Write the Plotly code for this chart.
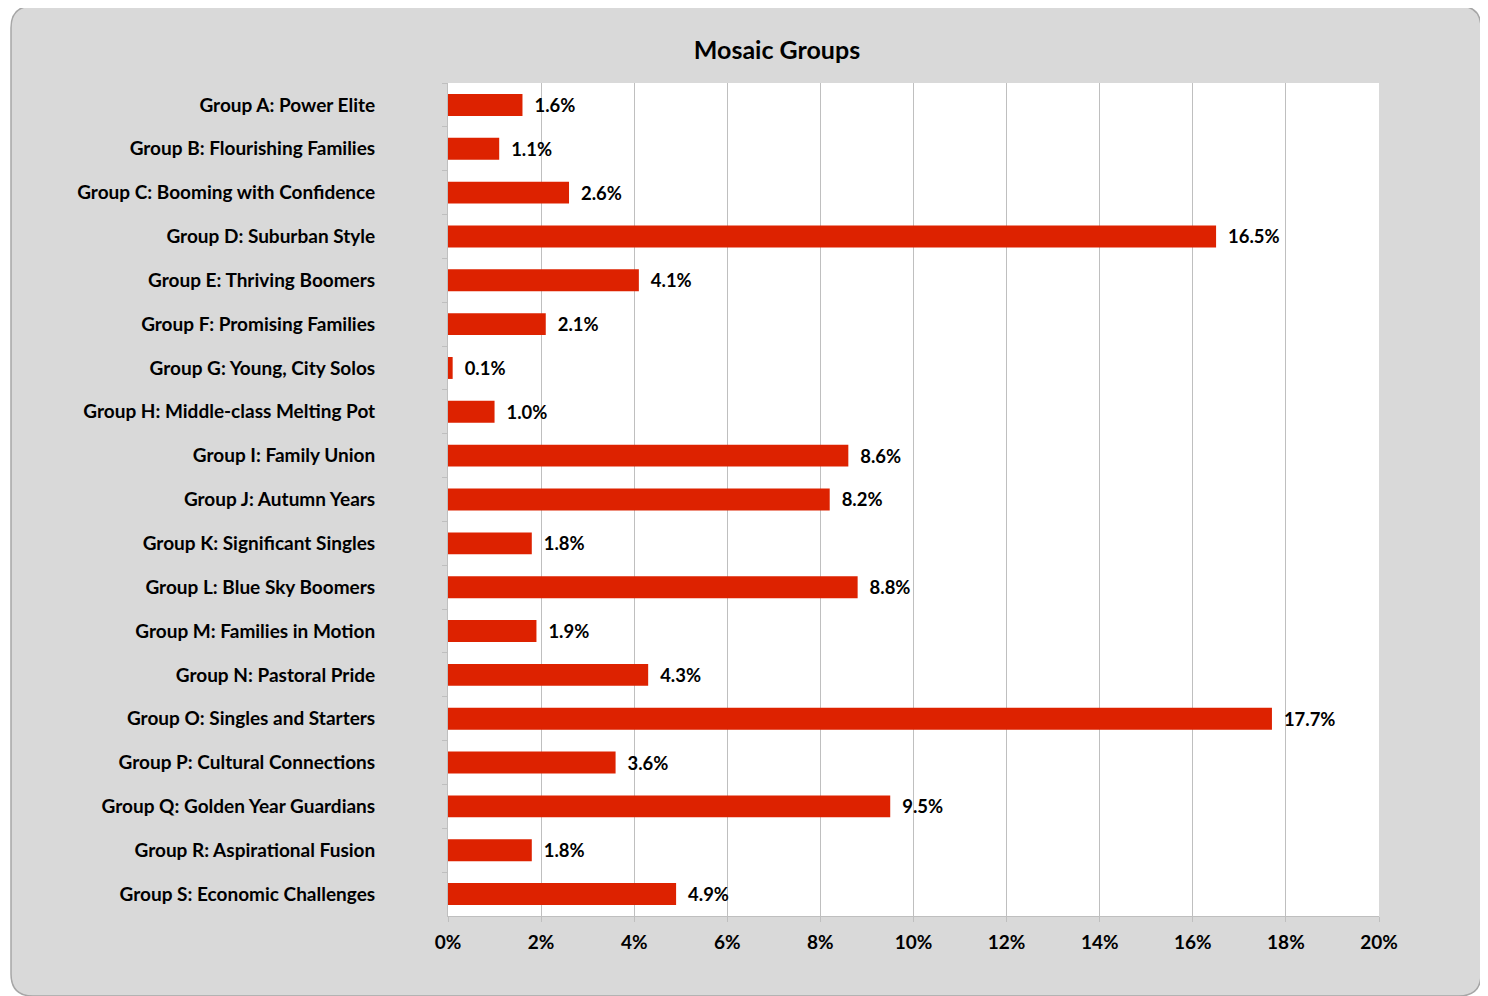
import plotly.graph_objects as go

categories = [
    "Group A: Power Elite", "Group B: Flourishing Families", "Group C: Booming with Confidence",
    "Group D: Suburban Style", "Group E: Thriving Boomers", "Group F: Promising Families",
    "Group G: Young, City Solos", "Group H: Middle-class Melting Pot", "Group I: Family Union",
    "Group J: Autumn Years", "Group K: Significant Singles", "Group L: Blue Sky Boomers",
    "Group M: Families in Motion", "Group N: Pastoral Pride", "Group O: Singles and Starters",
    "Group P: Cultural Connections", "Group Q: Golden Year Guardians", "Group R: Aspirational Fusion",
    "Group S: Economic Challenges",
]
values = [0.016, 0.011, 0.026, 0.165, 0.041, 0.021, 0.001, 0.010, 0.086, 0.082,
          0.018, 0.088, 0.019, 0.043, 0.177, 0.036, 0.095, 0.018, 0.049]
x_ticks = [0, 0.02, 0.04, 0.06, 0.08, 0.10, 0.12, 0.14, 0.16, 0.18, 0.20]

# page offset: the html body adds an 8px margin
OFF = 8
W, H = 1488 - OFF, 996 - OFF
L, R, T, B = 448 - OFF, 1379 - OFF, 83 - OFF, 916 - OFF
FONT = "Lato, 'Open Sans', sans-serif"

def px(x):
    return (x - OFF - L) / (R - L)

def py(y):
    return (B - (y - OFF)) / (B - T)

fig = go.Figure(go.Bar(
    y=categories, x=values, orientation="h",
    marker=dict(color="#DD2200", line=dict(width=0)),
    texttemplate="  %{x:.1%}", textposition="outside",
    textfont=dict(family=FONT, size=18.5, color="#000000", weight="bold"),
    cliponaxis=False,
))

# rounded outer chart area (page pixel coordinates)
x0, x1, y0, y1, r = 11, 1481, 6, 996, 22
path = (f"M {px(x0+r)},{py(y0)} L {px(x1-r)},{py(y0)} Q {px(x1)},{py(y0)} {px(x1)},{py(y0+r)} "
        f"L {px(x1)},{py(y1-r)} Q {px(x1)},{py(y1)} {px(x1-r)},{py(y1)} "
        f"L {px(x0+r)},{py(y1)} Q {px(x0)},{py(y1)} {px(x0)},{py(y1-r)} "
        f"L {px(x0)},{py(y0+r)} Q {px(x0)},{py(y0)} {px(x0+r)},{py(y0)} Z")
shapes = [
    dict(type="path", xref="paper", yref="paper", path=path,
         fillcolor="#D9D9D9", line=dict(color="#A6A6A6", width=1.5), layer="below"),
    dict(type="rect", xref="paper", yref="paper", x0=0, x1=1, y0=0, y1=1,
         fillcolor="#FFFFFF", line=dict(width=0), layer="below"),
]

fig.update_layout(
    width=W, height=H,
    margin=dict(l=L, r=W - R, t=T, b=H - B, pad=0),
    paper_bgcolor="#FFFFFF", plot_bgcolor="rgba(0,0,0,0)",
    shapes=shapes, showlegend=False, bargap=0.5,
    title=dict(text="Mosaic Groups", x=(777 - OFF) / W, xanchor="center",
               y=1 - (50 - OFF) / H, yanchor="middle",
               font=dict(family=FONT, size=25, color="#000000", weight="bold")),
    font=dict(family=FONT, color="#000000"),
)
fig.update_xaxes(
    range=[0, 0.2], tickvals=x_ticks, tickformat=".0%",
    showgrid=True, gridcolor="#BFBFBF", gridwidth=1,
    showline=True, linecolor="#BFBFBF", linewidth=1,
    ticks="outside", ticklen=5, tickcolor="#BFBFBF",
    tickfont=dict(family=FONT, size=19, color="#000000", weight="bold"),
    ticklabelstandoff=4,
    zeroline=False, fixedrange=True,
)
fig.update_yaxes(
    categoryorder="array", categoryarray=categories, autorange="reversed",
    showgrid=False, showline=True, linecolor="#BFBFBF", linewidth=1,
    ticks="outside", ticklen=5, tickcolor="#BFBFBF", tickson="boundaries",
    tickfont=dict(family=FONT, size=19, color="#000000", weight="bold"),
    ticklabelstandoff=68,
)

fig.write_html("out.html")
